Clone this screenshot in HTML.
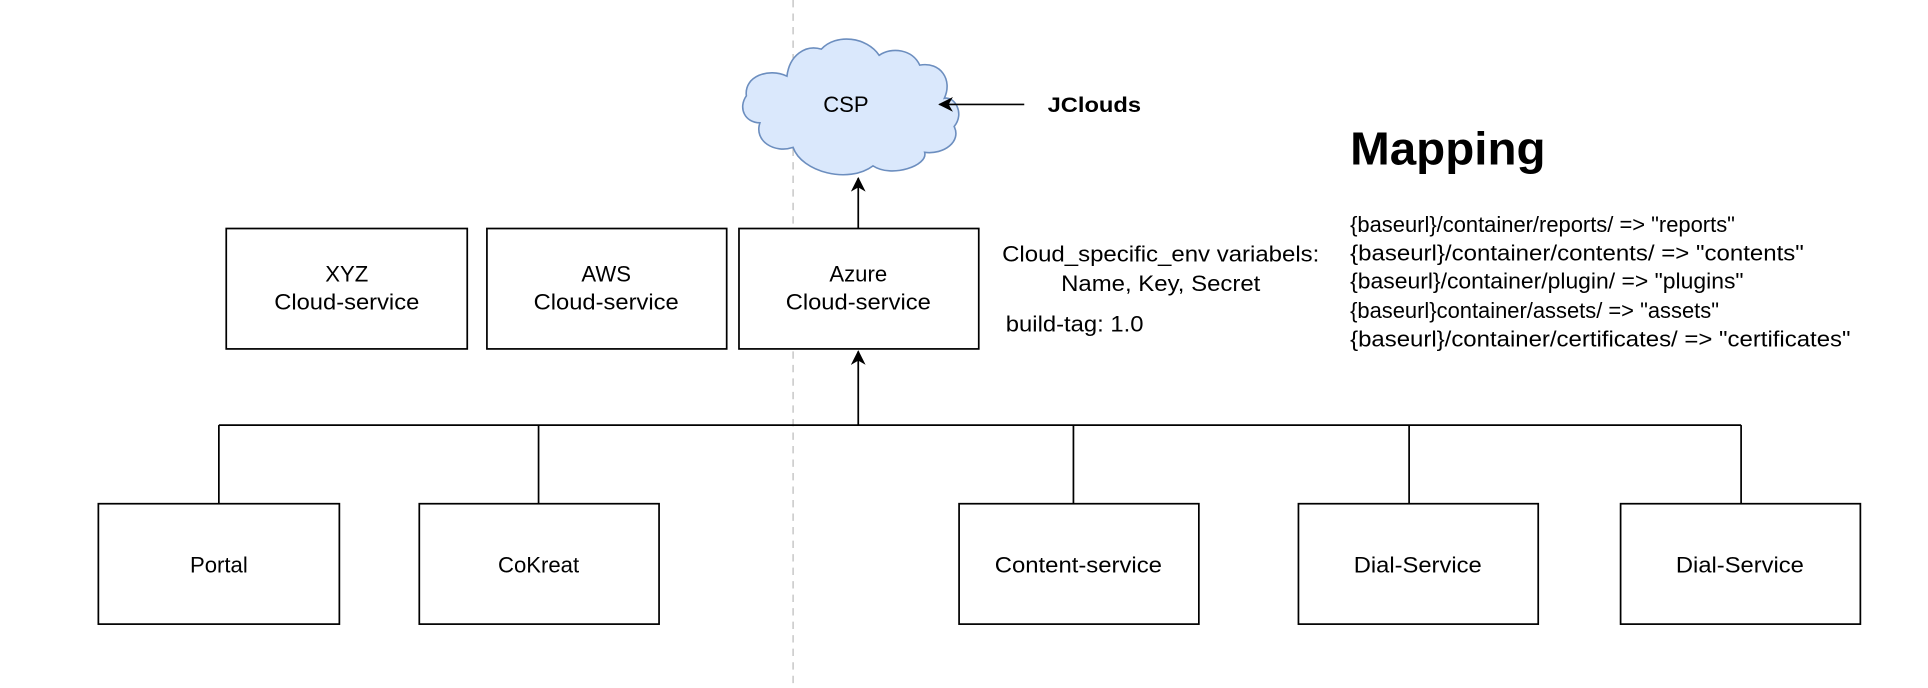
<!DOCTYPE html>
<html><head><meta charset="utf-8"><style>
html,body{margin:0;padding:0;background:#fff;}
svg{display:block;}
text{font-family:"Liberation Sans",Arial,sans-serif;fill:#000;}
</style></head><body>
<svg width="1928" height="688" viewBox="0 0 1568 560" preserveAspectRatio="none" xmlns="http://www.w3.org/2000/svg">
<defs>
<marker id="ah" markerWidth="12" markerHeight="12" refX="11" refY="6" orient="auto" markerUnits="userSpaceOnUse">
<path d="M0,0 L12,6 L0,12 L3.5,6 Z" fill="#000"/>
</marker>
</defs>
<line x1="645" y1="0" x2="645" y2="560" stroke="#bbb" stroke-width="1" stroke-dasharray="6,5"/>
<path d="M640,62 C625,55 605,62 607,78 C600,88 606,100 618,100 C613,115 630,125 645,120 C652,140 690,150 710,135 C725,145 755,135 752,124 C768,126 782,115 776,103 C785,92 776,78 768,80 C775,65 765,50 748,53 C742,40 725,38 715,45 C705,30 680,27 668,40 C655,36 642,45 640,62 Z" fill="#dae8fc" stroke="#6c8ebf" stroke-width="1.3"/>
<text x="688" y="91" font-size="18" text-anchor="middle">CSP</text>
<line x1="833" y1="85" x2="764" y2="85" stroke="#000" stroke-width="1.4" marker-end="url(#ah)"/>
<text x="852" y="91" font-size="17" font-weight="bold" textLength="76" lengthAdjust="spacingAndGlyphs">JClouds</text>
<line x1="698" y1="186" x2="698" y2="145" stroke="#000" stroke-width="1.4" marker-end="url(#ah)"/>
<g fill="#fff" stroke="#000" stroke-width="1.4">
<rect x="184" y="186" width="196" height="98"/>
<rect x="396" y="186" width="195" height="98"/>
<rect x="601" y="186" width="195" height="98"/>
<rect x="80" y="410" width="196" height="98"/>
<rect x="341" y="410" width="195" height="98"/>
<rect x="780" y="410" width="195" height="98"/>
<rect x="1056" y="410" width="195" height="98"/>
<rect x="1318" y="410" width="195" height="98"/>
</g>
<g font-size="18" text-anchor="middle">
<text x="282" y="229">XYZ</text><text x="282" y="252" textLength="118" lengthAdjust="spacingAndGlyphs">Cloud-service</text>
<text x="493" y="229">AWS</text><text x="493" y="252" textLength="118" lengthAdjust="spacingAndGlyphs">Cloud-service</text>
<text x="698" y="229">Azure</text><text x="698" y="252" textLength="118" lengthAdjust="spacingAndGlyphs">Cloud-service</text>
<text x="178" y="466">Portal</text>
<text x="438" y="466">CoKreat</text>
<text x="877" y="466" textLength="136" lengthAdjust="spacingAndGlyphs">Content-service</text>
<text x="1153" y="466" textLength="104" lengthAdjust="spacingAndGlyphs">Dial-Service</text>
<text x="1415" y="466" textLength="104" lengthAdjust="spacingAndGlyphs">Dial-Service</text>
</g>
<g stroke="#000" stroke-width="1.4" fill="none">
<line x1="178" y1="346" x2="1416" y2="346"/>
<line x1="178" y1="346" x2="178" y2="410"/>
<line x1="438" y1="346" x2="438" y2="410"/>
<line x1="873" y1="346" x2="873" y2="410"/>
<line x1="1146" y1="346" x2="1146" y2="410"/>
<line x1="1416" y1="346" x2="1416" y2="410"/>
</g>
<line x1="698" y1="346" x2="698" y2="286" stroke="#000" stroke-width="1.4" marker-end="url(#ah)"/>
<g font-size="18">
<text x="815" y="213" textLength="258" lengthAdjust="spacingAndGlyphs">Cloud_specific_env variabels:</text>
<text x="863" y="237" textLength="162" lengthAdjust="spacingAndGlyphs">Name, Key, Secret</text>
<text x="818" y="270" textLength="112" lengthAdjust="spacingAndGlyphs">build-tag: 1.0</text>
</g>
<text x="1098" y="134" font-size="38" font-weight="bold" textLength="159" lengthAdjust="spacingAndGlyphs">Mapping</text>
<g font-size="18">
<text x="1098" y="189" textLength="313" lengthAdjust="spacingAndGlyphs">{baseurl}/container/reports/ =&gt; "reports"</text>
<text x="1098" y="212" textLength="369" lengthAdjust="spacingAndGlyphs">{baseurl}/container/contents/ =&gt; "contents"</text>
<text x="1098" y="235" textLength="320" lengthAdjust="spacingAndGlyphs">{baseurl}/container/plugin/ =&gt; "plugins"</text>
<text x="1098" y="259" textLength="300" lengthAdjust="spacingAndGlyphs">{baseurl}container/assets/ =&gt; "assets"</text>
<text x="1098" y="282" textLength="407" lengthAdjust="spacingAndGlyphs">{baseurl}/container/certificates/ =&gt; "certificates"</text>
</g>
</svg>
</body></html>
